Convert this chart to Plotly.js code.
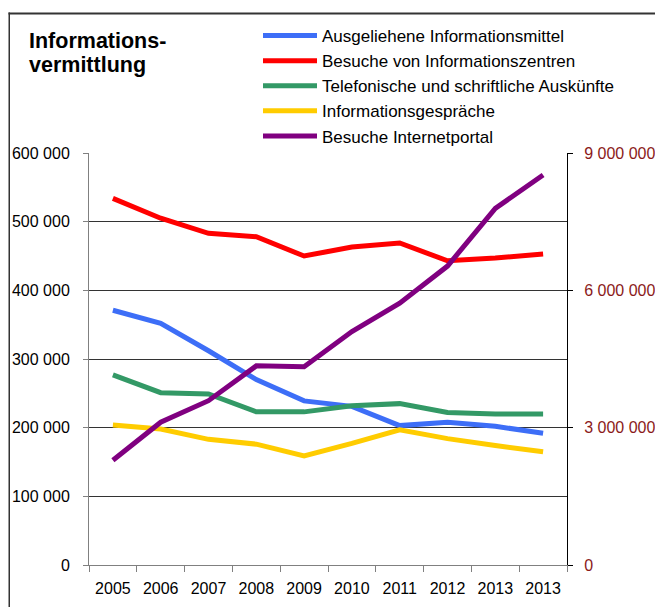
<!DOCTYPE html>
<html>
<head>
<meta charset="utf-8">
<script src="https://cdn.plot.ly/plotly-3.0.1.min.js"></script>
<style>html,body{margin:0;padding:0;background:#fff;}#chart{width:655px;height:607px;}</style>
</head>
<body>
<div id="chart"></div>
<script>
const categories = ['2005','2006','2007','2008','2009','2010','2011','2012','2013','2013'];
const seriesNames = ['Ausgeliehene Informationsmittel','Besuche von Informationszentren','Telefonische und schriftliche Auskünfte','Informationsgespräche','Besuche Internetportal'];
const ausgeliehene   = [371000, 352000, 312000, 270000, 239000, 231000, 203000, 208000, 202000, 192000];
const besucheZentren = [534000, 505000, 483000, 478000, 450000, 463000, 469000, 443000, 447000, 453000];
const telefonisch    = [277000, 251000, 249000, 223000, 223000, 232000, 235000, 222000, 220000, 220000];
const gespraeche     = [204000, 198000, 183000, 176000, 159000, 177000, 197000, 184000, 174000, 165000];
const internetportal = [2290000, 3120000, 3590000, 4350000, 4330000, 5100000, 5720000, 6530000, 7790000, 8520000];
const titleLines = ['Informations-', 'vermittlung'];

const colors = ['#3D6EF7','#FF0000','#339966','#FFCC00','#800080'];
const idx = categories.map((c,i)=>i);
const sans = '"Liberation Sans", Arial, sans-serif';

const leftSeries = [ausgeliehene, besucheZentren, telefonisch, gespraeche];
const traces = leftSeries.map((s,i)=>({
  x: idx, y: s, type:'scatter', mode:'lines', name: seriesNames[i],
  line:{color:colors[i], width:5}, yaxis:'y', hoverinfo:'skip'
}));
traces.push({
  x: idx, y: internetportal, type:'scatter', mode:'lines', name: seriesNames[4],
  line:{color:colors[4], width:5}, yaxis:'y2', hoverinfo:'skip'
});

const L = 89, R = 567, T = 153, B = 565;
const px2x = p => (p - L) / (R - L);
const px2y = p => (B - p) / (B - T);

const titleAnn = titleLines.map((t,i)=>({
  text:'<b>'+t+'</b>', xref:'paper', yref:'paper', x:px2x(27), y:px2y(41 + i*24),
  xanchor:'left', yanchor:'middle', showarrow:false,
  font:{family:sans, size:21.5, color:'#000'}
}));

const layout = {
  width:655, height:607,
  margin:{l:L, r:655-R, t:T, b:607-B},
  paper_bgcolor:'#fff', plot_bgcolor:'#fff',
  separators:', ',
  font:{family:sans, color:'#000'},
  showlegend:true,
  legend:{x:px2x(258), y:px2y(18), xanchor:'left', yanchor:'top', bgcolor:'rgba(0,0,0,0)',
          font:{family:sans, size:17, color:'#000'}, itemwidth:54, tracegroupgap:0, traceorder:'normal'},
  xaxis:{range:[-0.5, categories.length-0.5], tickmode:'array', tickvals:idx, ticktext:categories,
         ticks:'outside', ticklen:9, tickcolor:'rgba(0,0,0,0)',
         minor:{tickmode:'linear', tick0:-0.5, dtick:1, ticks:'outside', ticklen:6, tickcolor:'#808080', showgrid:false},
         showline:true, linecolor:'#808080', linewidth:1, showgrid:false, zeroline:false,
         tickfont:{family:sans, size:16, color:'#000'}, fixedrange:true},
  yaxis:{range:[0,600000], tickmode:'linear', tick0:0, dtick:100000, tickformat:',d',
         ticks:'outside', ticklen:5, tickcolor:'#808080', showline:true, linecolor:'#808080', linewidth:1,
         showgrid:true, gridcolor:'#333', gridwidth:1, zeroline:false, ticklabelstandoff:10,
         tickfont:{family:sans, size:16, color:'#000'}, fixedrange:true},
  yaxis2:{range:[0,9000000], overlaying:'y', side:'right', tickmode:'linear', tick0:0, dtick:3000000, tickformat:',d',
          ticks:'outside', ticklen:5, tickcolor:'#000', showline:true, linecolor:'#000', linewidth:1,
          showgrid:false, zeroline:false, ticklabelstandoff:8,
          tickfont:{family:sans, size:16, color:'#8B1A1A'}, fixedrange:true},
  annotations: titleAnn,
  shapes:[
    {type:'rect', xref:'paper', yref:'paper', x0:px2x(8.5), x1:px2x(700), y0:px2y(14.5), y1:px2y(12.5), line:{width:0}, fillcolor:'#333', layer:'above'},
    {type:'rect', xref:'paper', yref:'paper', x0:px2x(8.5), x1:px2x(10), y0:px2y(700), y1:px2y(12.5), line:{width:0}, fillcolor:'#333', layer:'above'}
  ]
};

Plotly.newPlot('chart', traces, layout, {displayModeBar:false, staticPlot:true});
</script>
</body>
</html>
